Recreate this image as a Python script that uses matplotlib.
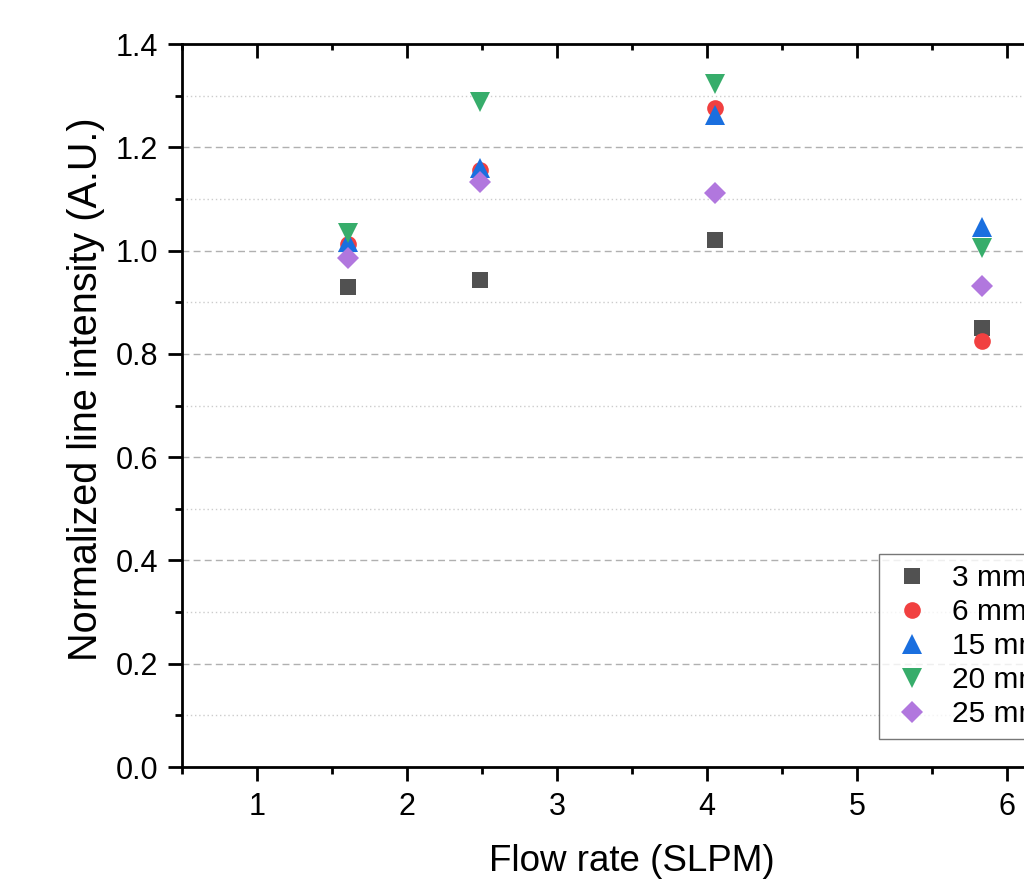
import matplotlib.pyplot as plt
from matplotlib.ticker import MultipleLocator

plt.rcParams['font.family'] = ['Liberation Sans', 'DejaVu Sans']

flow = [1.607, 2.487, 4.053, 5.833]
labels = ["3 mm", "6 mm", "15 mm", "20 mm", "25 mm"]
series = [
    [0.929, 0.943, 1.020, 0.850],
    [1.012, 1.156, 1.276, 0.825],
    [1.017, 1.160, 1.263, 1.046],
    [1.034, 1.288, 1.323, 1.005],
    [0.986, 1.133, 1.112, 0.931],
]
colors = ["#515151", "#F14040", "#1A6FDF", "#37AD6B", "#B177DE"]
markers = ["s", "o", "^", "v", "D"]
sizes = [11.5, 12, 14.5, 14.5, 11]

fig = plt.figure(figsize=(10.24, 8.8), dpi=100)
ax = fig.add_axes([0.1777, 0.1284, 0.879, 0.8216])

for vals, lab, c, m, s in zip(series, labels, colors, markers, sizes):
    ax.plot(flow, vals, linestyle="none", marker=m, markersize=s,
            color=c, markeredgewidth=0, label=lab)

ax.set_xlim(0.5, 6.5)
ax.set_ylim(0, 1.4)
ax.xaxis.set_major_locator(MultipleLocator(1))
ax.xaxis.set_minor_locator(MultipleLocator(0.5))
ax.yaxis.set_major_locator(MultipleLocator(0.2))
ax.yaxis.set_minor_locator(MultipleLocator(0.1))

ax.grid(axis="y", which="major", linestyle=(0, (5, 3)), color="#b0b0b0", linewidth=1)
ax.grid(axis="y", which="minor", linestyle=(0, (1, 2)), color="#cccccc", linewidth=1)
ax.set_axisbelow(True)

for sp in ax.spines.values():
    sp.set_linewidth(2)
# bottom/left ticks point out
ax.tick_params(axis="y", which="major", direction="out", length=10, width=2,
               labelsize=22, pad=7)
ax.tick_params(axis="y", which="minor", direction="out", length=5, width=2)
ax.tick_params(axis="x", which="major", direction="out", length=10, width=2,
               labelsize=22, pad=8)
ax.tick_params(axis="x", which="minor", direction="out", length=5, width=2)

# top ticks point in
top = ax.twiny()
top.set_xlim(ax.get_xlim())
top.xaxis.set_major_locator(MultipleLocator(1))
top.xaxis.set_minor_locator(MultipleLocator(0.5))
top.tick_params(axis="x", which="major", direction="in", length=10, width=2,
                labeltop=False)
top.tick_params(axis="x", which="minor", direction="in", length=4.5, width=2)
for sp in top.spines.values():
    sp.set_visible(False)

ax.set_yticklabels([f"{v:.1f}" for v in ax.get_yticks()])
ax.set_xlabel("Flow rate (SLPM)", fontsize=26.5, labelpad=16)
ax.set_ylabel("Normalized line intensity (A.U.)", fontsize=28.5, labelpad=5)
ax.yaxis.set_label_coords(-0.0856, 0.523)

leg = ax.legend(loc="upper left", bbox_to_anchor=(0.7744, 0.2946), fontsize=21.5,
                frameon=True, fancybox=False, edgecolor="#555555",
                borderaxespad=0, handletextpad=0.6, borderpad=0.35,
                labelspacing=0.2, handlelength=1.5)
leg.get_frame().set_linewidth(1)

fig.savefig("out.png", dpi=100)
